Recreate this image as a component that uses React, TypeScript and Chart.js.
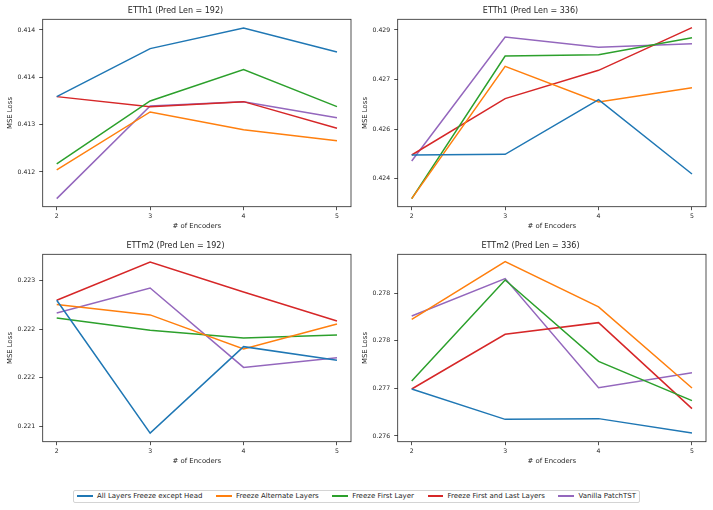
import React, { useEffect, useRef } from "react";
import { Chart, registerables } from "chart.js";

Chart.register(...registerables);

const encoders = [2, 3, 4, 5];
const seriesNames = [
  "All Layers Freeze except Head",
  "Freeze Alternate Layers",
  "Freeze First Layer",
  "Freeze First and Last Layers",
  "Vanilla PatchTST",
];
const seriesColors = ["#1f77b4", "#ff7f0e", "#2ca02c", "#d62728", "#9467bd"];

// ETTh1 (Pred Len = 192)
const etth1_192_allHead = [0.413296, 0.413803, 0.414021, 0.413768];
const etth1_192_alternate = [0.412521, 0.413134, 0.412947, 0.412831];
const etth1_192_first = [0.412585, 0.41325, 0.413581, 0.41319];
const etth1_192_firstLast = [0.413296, 0.41319, 0.413243, 0.412961];
const etth1_192_vanilla = [0.412218, 0.413197, 0.413243, 0.413074];
const etth1_192_ticks = [0.4125, 0.413, 0.4135, 0.414];
const etth1_192_tickLabels = ["0.412", "0.413", "0.414", "0.414"];
const etth1_192_range = [0.412133, 0.414113];

// ETTh1 (Pred Len = 336)
const etth1_336_allHead = [0.424716, 0.424737, 0.426391, 0.424141];
const etth1_336_alternate = [0.423395, 0.4274, 0.426321, 0.426755];
const etth1_336_first = [0.423395, 0.427713, 0.427753, 0.428268];
const etth1_336_firstLast = [0.424716, 0.426422, 0.427279, 0.428571];
const etth1_336_vanilla = [0.424535, 0.428288, 0.427975, 0.428086];
const etth1_336_ticks = [0.424, 0.4255, 0.427, 0.4285];
const etth1_336_tickLabels = ["0.424", "0.426", "0.427", "0.429"];
const etth1_336_range = [0.423152, 0.428823];

// ETTm2 (Pred Len = 192)
const ettm2_192_allHead = [0.222438, 0.221342, 0.222055, 0.221942];
const ettm2_192_alternate = [0.222402, 0.222317, 0.222036, 0.222242];
const ettm2_192_first = [0.222292, 0.22219, 0.222127, 0.222151];
const ettm2_192_firstLast = [0.222438, 0.222754, 0.222506, 0.222267];
const ettm2_192_vanilla = [0.222333, 0.222539, 0.221884, 0.221964];
const ettm2_192_ticks = [0.2214, 0.2218, 0.2222, 0.2226];
const ettm2_192_tickLabels = ["0.221", "0.222", "0.222", "0.223"];
const ettm2_192_range = [0.221271, 0.222817];

// ETTm2 (Pred Len = 336)
const ettm2_336_allHead = [0.276993, 0.27661, 0.276619, 0.276438];
const ettm2_336_alternate = [0.277872, 0.2786, 0.278028, 0.277006];
const ettm2_336_first = [0.277094, 0.278368, 0.277342, 0.276846];
const ettm2_336_firstLast = [0.276993, 0.277683, 0.27783, 0.276745];
const ettm2_336_vanilla = [0.277914, 0.278385, 0.27701, 0.277199];
const ettm2_336_ticks = [0.2764, 0.277, 0.2776, 0.2782];
const ettm2_336_tickLabels = ["0.276", "0.277", "0.278", "0.278"];
const ettm2_336_range = [0.276328, 0.278692];

const panelTitles = [
  "ETTh1 (Pred Len = 192)",
  "ETTh1 (Pred Len = 336)",
  "ETTm2 (Pred Len = 192)",
  "ETTm2 (Pred Len = 336)",
];

const panels = [
  {
    title: panelTitles[0],
    series: [etth1_192_allHead, etth1_192_alternate, etth1_192_first, etth1_192_firstLast, etth1_192_vanilla],
    ticks: etth1_192_ticks,
    tickLabels: etth1_192_tickLabels,
    range: etth1_192_range,
    left: 0,
    top: 0,
  },
  {
    title: panelTitles[1],
    series: [etth1_336_allHead, etth1_336_alternate, etth1_336_first, etth1_336_firstLast, etth1_336_vanilla],
    ticks: etth1_336_ticks,
    tickLabels: etth1_336_tickLabels,
    range: etth1_336_range,
    left: 355,
    top: 0,
  },
  {
    title: panelTitles[2],
    series: [ettm2_192_allHead, ettm2_192_alternate, ettm2_192_first, ettm2_192_firstLast, ettm2_192_vanilla],
    ticks: ettm2_192_ticks,
    tickLabels: ettm2_192_tickLabels,
    range: ettm2_192_range,
    left: 0,
    top: 235,
  },
  {
    title: panelTitles[3],
    series: [ettm2_336_allHead, ettm2_336_alternate, ettm2_336_first, ettm2_336_firstLast, ettm2_336_vanilla],
    ticks: ettm2_336_ticks,
    tickLabels: ettm2_336_tickLabels,
    range: ettm2_336_range,
    left: 355,
    top: 235,
  },
];

const FONT = "'DejaVu Sans', sans-serif";
const INK = "#262626";

const framePlugin = {
  id: "frame",
  afterDraw(chart: any) {
    const { ctx, chartArea } = chart;
    ctx.save();
    ctx.strokeStyle = INK;
    ctx.lineWidth = 0.8;
    ctx.strokeRect(chartArea.left, chartArea.top, chartArea.right - chartArea.left, chartArea.bottom - chartArea.top);
    ctx.restore();
  },
};

function Panel({ panel }: { panel: any }) {
  const ref = useRef<HTMLCanvasElement | null>(null);
  useEffect(() => {
    if (!ref.current) return;
    const chart = new Chart(ref.current, {
      type: "line",
      data: {
        datasets: panel.series.map((vals: number[], i: number) => ({
          label: seriesNames[i],
          data: encoders.map((x, j) => ({ x, y: vals[j] })),
          borderColor: seriesColors[i],
          backgroundColor: seriesColors[i],
          borderWidth: 1.5,
          pointRadius: 0,
          tension: 0,
          fill: false,
        })),
      },
      options: {
        animation: false,
        responsive: true,
        maintainAspectRatio: false,
        layout: { padding: { left: 0, right: 5, top: 0, bottom: 0 } },
        plugins: {
          legend: { display: false },
          tooltip: { enabled: false },
          title: {
            display: true,
            text: panel.title,
            color: INK,
            font: { family: FONT, size: 8, weight: "normal" },
            padding: { top: 6.2, bottom: 3.5 },
          },
        },
        scales: {
          x: {
            type: "linear",
            min: 1.85,
            max: 5.15,
            afterBuildTicks: (scale: any) => {
              scale.ticks = encoders.map((v) => ({ value: v }));
            },
            afterFit: (scale: any) => {
              scale.height = 28.3;
            },
            ticks: {
              color: INK,
              font: { family: FONT, size: 6.2 },
              padding: 2.5,
              maxRotation: 0,
              callback: (v: any) => String(v),
            },
            grid: { drawOnChartArea: false, drawTicks: true, tickLength: 3.5, color: INK, lineWidth: 0.8 },
            border: { display: false },
            title: {
              display: true,
              text: "# of Encoders",
              color: INK,
              font: { family: FONT, size: 6.9 },
              padding: { top: 0, bottom: 4.2 },
            },
          },
          y: {
            type: "linear",
            min: panel.range[0],
            max: panel.range[1],
            afterBuildTicks: (scale: any) => {
              scale.ticks = panel.ticks.map((v: number) => ({ value: v }));
            },
            afterFit: (scale: any) => {
              scale.width = 42.7;
            },
            ticks: {
              color: INK,
              font: { family: FONT, size: 6.2 },
              padding: 4,
              callback: (v: any) => {
                const idx = panel.ticks.findIndex((t: number) => Math.abs(t - v) < 1e-9);
                return idx >= 0 ? panel.tickLabels[idx] : "";
              },
            },
            grid: { drawOnChartArea: false, drawTicks: true, tickLength: 3.5, color: INK, lineWidth: 0.8 },
            border: { display: false },
            title: {
              display: true,
              text: "MSE Loss",
              color: INK,
              font: { family: FONT, size: 6.9 },
              padding: { top: 6.5, bottom: 0 },
            },
          },
        },
      } as any,
      plugins: [framePlugin],
    });
    return () => chart.destroy();
  }, [panel]);
  return (
    <div style={{ position: "absolute", left: panel.left, top: panel.top, width: 356, height: 235 }}>
      <canvas ref={ref} />
    </div>
  );
}

export default function App() {
  return (
    <div style={{ position: "absolute", left: 0, top: 0, width: 713, height: 510, background: "#fff", overflow: "hidden" }}>
      {panels.map((p, i) => (
        <Panel key={i} panel={p} />
      ))}
      <div
        style={{
          position: "absolute",
          left: 73,
          top: 489.5,
          height: 13,
          boxSizing: "border-box",
          border: "0.8px solid #d4d4d4",
          borderRadius: 2,
          display: "inline-flex",
          alignItems: "center",
          padding: "0 3px",
          fontFamily: FONT,
          fontSize: 7,
          color: INK,
          whiteSpace: "nowrap",
        }}
      >
        {seriesNames.map((name, i) => (
          <div key={i} style={{ display: "flex", alignItems: "center", marginLeft: i === 0 ? 0 : 13.6 }}>
            <span style={{ display: "inline-block", width: 15.7, height: 1.5, background: seriesColors[i], marginRight: 4.3 }} />
            <span>{name}</span>
          </div>
        ))}
      </div>
    </div>
  );
}
